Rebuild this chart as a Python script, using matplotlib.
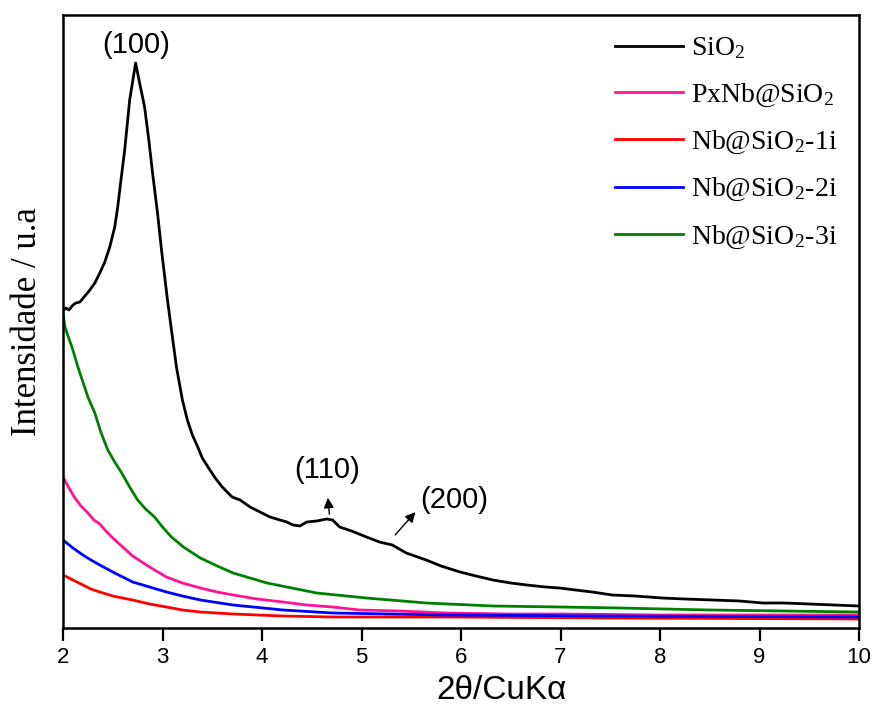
import matplotlib
matplotlib.use("Agg")
import matplotlib.pyplot as plt

# Low-angle XRD patterns (2theta in degrees, intensity in arbitrary units)
sio2_x = [2.00, 2.03, 2.06, 2.10, 2.13, 2.17, 2.22, 2.27, 2.32, 2.37, 2.42, 2.47, 2.52,
          2.55, 2.58, 2.62, 2.67, 2.73, 2.77, 2.82, 2.86, 2.90, 2.95, 2.99, 3.05, 3.09,
          3.14, 3.20, 3.25, 3.30, 3.35, 3.40, 3.47, 3.53, 3.60, 3.70, 3.78, 3.88, 3.98,
          4.08, 4.18, 4.25, 4.31, 4.38, 4.45, 4.55, 4.65, 4.71, 4.78, 4.90, 5.05, 5.18,
          5.31, 5.45, 5.65, 5.80, 5.99, 6.15, 6.32, 6.50, 6.66, 6.85, 6.99, 7.15, 7.32,
          7.52, 7.75, 8.02, 8.25, 8.53, 8.80, 9.03, 9.25, 9.50, 9.75, 10.00]
sio2_y = [317, 320, 318, 323, 325, 326, 332, 338, 345, 355, 366, 381, 401,
          421, 446, 478, 528, 565, 545, 521, 490, 455, 415, 378, 328, 298,
          261, 228, 208, 193, 182, 170, 159, 150, 141, 131, 128, 121, 116,
          111, 108, 106, 103, 102, 106, 107, 109, 108, 101, 97, 91, 86,
          83, 75, 68, 62, 56, 52, 48, 45, 43, 41, 40, 38, 36,
          33, 32, 30, 29, 28, 27, 25, 25, 24, 23, 22]

pxnb_x = [2.00, 2.06, 2.12, 2.18, 2.25, 2.31, 2.37, 2.44, 2.50, 2.60, 2.70, 2.87, 3.04,
          3.20, 3.38, 3.55, 3.71, 3.95, 4.21, 4.45, 4.71, 4.98, 5.38, 5.85, 6.50, 7.00,
          8.00, 9.00, 10.00]
pxnb_y = [151, 140, 130, 122, 115, 108, 104, 96, 90, 81, 72, 61, 51,
          45, 40, 36, 33, 29, 26, 23, 21, 18, 17, 15, 14, 14,
          13, 13, 13]

nb1i_x = [2.00, 2.10, 2.20, 2.28, 2.37, 2.50, 2.70, 2.87, 3.04, 3.20, 3.38, 3.71, 4.21,
          4.71, 5.85, 7.50, 10.00]
nb1i_y = [53, 48, 43, 39, 36, 32, 28, 24, 21, 18, 16, 14, 12,
          11, 11, 10, 9]

nb2i_x = [2.00, 2.10, 2.20, 2.28, 2.37, 2.50, 2.70, 2.87, 3.04, 3.20, 3.38, 3.71, 4.21,
          4.71, 5.85, 7.50, 10.00]
nb2i_y = [88, 80, 73, 68, 63, 56, 46, 41, 36, 32, 28, 23, 18,
          15, 13, 12, 11]

nb3i_x = [2.00, 2.02, 2.05, 2.09, 2.15, 2.20, 2.25, 2.32, 2.38, 2.45, 2.52, 2.59, 2.67,
          2.75, 2.83, 2.92, 3.00, 3.09, 3.21, 3.38, 3.55, 3.71, 3.88, 4.05, 4.30, 4.55,
          5.05, 5.65, 6.32, 7.00, 7.59, 8.50, 10.00]
nb3i_y = [315, 301, 292, 281, 261, 246, 231, 215, 196, 178, 166, 155, 141,
          128, 119, 111, 101, 91, 81, 70, 62, 55, 50, 45, 40, 35,
          30, 25, 22, 21, 20, 18, 16]

labels = [r"SiO$_\mathregular{2}$", r"PxNb@SiO$_\mathregular{2}$",
          r"Nb@SiO$_\mathregular{2}$-1i", r"Nb@SiO$_\mathregular{2}$-2i",
          r"Nb@SiO$_\mathregular{2}$-3i"]
colors = ["#000000", "#FF1493", "#FF0000", "#0000FF", "#008000"]

plt.rcParams["mathtext.fontset"] = "stix"

fig = plt.figure(figsize=(8.74, 7.13), dpi=100)
ax = fig.add_axes([63 / 874, 1 - 628 / 713, (859 - 63) / 874, (628 - 15) / 713])

series = [(sio2_x, sio2_y), (pxnb_x, pxnb_y), (nb1i_x, nb1i_y),
          (nb2i_x, nb2i_y), (nb3i_x, nb3i_y)]
for (xs, ys), lab, col in zip(series, labels, colors):
    ax.plot(xs, ys, color=col, lw=2.0, label=lab)

ax.set_xlim(2, 10)
ax.set_ylim(0, 613)
ax.set_xticks(range(2, 11))
ax.set_yticks([])
ax.tick_params(axis="x", direction="out", length=9, width=1.6,
               labelsize=16, pad=5)
for lab in ax.get_xticklabels():
    lab.set_family("Liberation Sans")
for sp in ax.spines.values():
    sp.set_linewidth(1.8)

ax.set_xlabel("2θ/CuKα", family="Liberation Sans", fontsize=24, labelpad=3)
ax.xaxis.set_label_coords((502 - 63) / 796, -0.077)
ax.set_ylabel("Intensidade / u.a", family="Liberation Serif", fontsize=25, labelpad=14)

# Reflection indices
ann_font = dict(family="Liberation Sans", fontsize=21, ha="center", va="center")
ax.text(2.74, 583, "(100)", **ann_font)
ax.annotate("", xy=(4.66, 133), xytext=(4.68, 111),
            arrowprops=dict(arrowstyle="-|>", color="black", lw=1.0, mutation_scale=15))
ax.text(4.65, 158, "(110)", **ann_font)
ax.annotate("", xy=(5.56, 118), xytext=(5.32, 91),
            arrowprops=dict(arrowstyle="-|>", color="black", lw=1.0, mutation_scale=15))
ax.text(5.93, 128, "(200)", **ann_font)

leg = ax.legend(loc="upper left", bbox_to_anchor=((615 - 63) / 796, 1 - 21 / 613),
                frameon=False, prop=dict(family="Liberation Serif", size=20),
                handlelength=2.45, handletextpad=0.3, labelspacing=0.72,
                borderpad=0, borderaxespad=0)

fig.savefig("out.png", dpi=100)
